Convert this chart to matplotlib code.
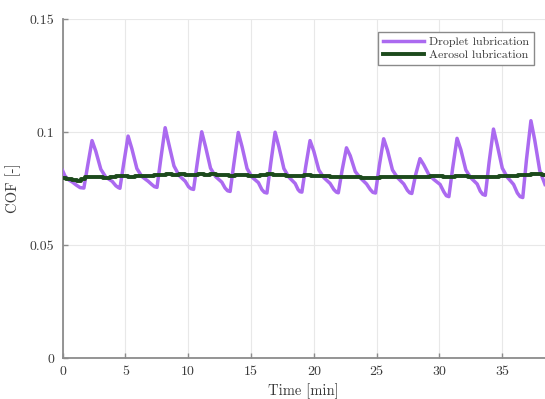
import matplotlib
matplotlib.use('Agg')
import matplotlib.pyplot as plt

# ---- data ----
# droplet lubrication (purple), time [min] / COF [-]
drop_t = [0.00, 0.20, 0.50, 0.80, 1.10, 1.40, 1.70, 2.00, 2.35,
          2.65, 3.05, 3.45, 3.95, 4.25, 4.45, 4.57, 4.87, 5.22,
          5.52, 5.92, 6.32, 6.82, 7.12, 7.32, 7.52, 7.82, 8.17,
          8.47, 8.87, 9.27, 9.77, 10.03, 10.23, 10.43, 10.73, 11.08,
          11.38, 11.78, 12.18, 12.68, 12.94, 13.14, 13.34, 13.64, 13.99,
          14.29, 14.69, 15.09, 15.59, 15.87, 16.07, 16.27, 16.57, 16.92,
          17.22, 17.62, 18.02, 18.52, 18.75, 18.90, 19.05, 19.35, 19.70,
          20.00, 20.40, 20.80, 21.30, 21.60, 21.80, 21.95, 22.25, 22.60,
          22.90, 23.30, 23.70, 24.20, 24.50, 24.70, 24.91, 25.21, 25.56,
          25.86, 26.26, 26.66, 27.16, 27.45, 27.63, 27.80, 28.10, 28.45,
          28.75, 29.15, 29.55, 30.05, 30.35, 30.55, 30.75, 31.05, 31.40,
          31.70, 32.10, 32.50, 33.00, 33.25, 33.45, 33.65, 33.95, 34.30,
          34.60, 35.00, 35.40, 35.90, 36.20, 36.42, 36.63, 36.93, 37.28,
          37.58, 37.98, 38.40]
drop_cof = [0.0830, 0.0805, 0.0788, 0.0778, 0.0765, 0.0754, 0.0752, 0.0850, 0.0962,
            0.0915, 0.0835, 0.0800, 0.0782, 0.0762, 0.0754, 0.0751, 0.0860, 0.0982,
            0.0926, 0.0838, 0.0803, 0.0782, 0.0767, 0.0758, 0.0755, 0.0880, 0.1019,
            0.0945, 0.0850, 0.0808, 0.0782, 0.0758, 0.0749, 0.0746, 0.0865, 0.1001,
            0.0936, 0.0840, 0.0803, 0.0778, 0.0752, 0.0740, 0.0737, 0.0860, 0.0998,
            0.0935, 0.0838, 0.0800, 0.0776, 0.0745, 0.0733, 0.0730, 0.0860, 0.0999,
            0.0935, 0.0838, 0.0800, 0.0772, 0.0745, 0.0736, 0.0734, 0.0845, 0.0962,
            0.0915, 0.0832, 0.0798, 0.0772, 0.0745, 0.0734, 0.0731, 0.0830, 0.0930,
            0.0895, 0.0825, 0.0797, 0.0770, 0.0745, 0.0733, 0.0730, 0.0850, 0.0970,
            0.0920, 0.0832, 0.0798, 0.0770, 0.0742, 0.0731, 0.0728, 0.0810, 0.0882,
            0.0855, 0.0812, 0.0790, 0.0768, 0.0735, 0.0718, 0.0714, 0.0840, 0.0972,
            0.0922, 0.0832, 0.0797, 0.0770, 0.0738, 0.0724, 0.0720, 0.0865, 0.1013,
            0.0942, 0.0840, 0.0800, 0.0768, 0.0730, 0.0714, 0.0710, 0.0880, 0.1050,
            0.0965, 0.0830, 0.0768]

# aerosol lubrication (dark green), sampled every 0.5 min
aero_t = [0.0, 0.5, 1.0, 1.3, 1.6, 2.0, 2.5, 3.0, 3.5, 4.0, 4.5, 5.0, 5.5, 6.0, 6.5,
          7.0, 7.5, 8.0, 8.5, 9.0, 9.5, 10.0, 10.5, 11.0, 11.5, 12.0, 12.5, 13.0, 13.5,
          14.0, 14.5, 15.0, 15.5, 16.0, 16.5, 17.0, 17.5, 18.0, 18.5, 19.0, 19.5, 20.0,
          20.5, 21.0, 21.5, 22.0, 22.5, 23.0, 23.5, 24.0, 24.5, 25.0, 25.5, 26.0, 26.5,
          27.0, 27.5, 28.0, 28.5, 29.0, 29.5, 30.0, 30.5, 31.0, 31.5, 32.0, 32.5, 33.0,
          33.5, 34.0, 34.5, 35.0, 35.5, 36.0, 36.5, 37.0, 37.5, 38.0, 38.4]
aero_cof = [0.0795, 0.0793, 0.0788, 0.0782, 0.0792, 0.0800, 0.0803, 0.0801, 0.0798, 0.0801,
            0.0804, 0.0805, 0.0803, 0.0806, 0.0807, 0.0805, 0.0809, 0.0811, 0.0812, 0.0810,
            0.0813, 0.0811, 0.0808, 0.0812, 0.0811, 0.0812, 0.0809, 0.0808, 0.0806, 0.0810,
            0.0808, 0.0806, 0.0807, 0.0808, 0.0812, 0.0811, 0.0808, 0.0806, 0.0807, 0.0806,
            0.0808, 0.0805, 0.0806, 0.0804, 0.0803, 0.0803, 0.0801, 0.0801, 0.0799, 0.0798,
            0.0797, 0.0797, 0.0799, 0.0799, 0.0801, 0.0802, 0.0801, 0.0803, 0.0802, 0.0803,
            0.0804, 0.0804, 0.0802, 0.0803, 0.0805, 0.0804, 0.0803, 0.0802, 0.0801, 0.0803,
            0.0802, 0.0805, 0.0804, 0.0806, 0.0808, 0.0811, 0.0812, 0.0812, 0.0810]

x_ticks = [0, 5, 10, 15, 20, 25, 30, 35]
x_labels = ['0', '5', '10', '15', '20', '25', '30', '35']
y_ticks = [0, 0.05, 0.1, 0.15]
y_labels = ['0', '0.05', '0.1', '0.15']
series_names = ['Droplet lubrication', 'Aerosol lubrication']

# ---- styling ----
plt.rcParams['font.family'] = ['cmr10', 'DejaVu Serif']
plt.rcParams['axes.formatter.use_mathtext'] = True

W, H = 545, 399
fig = plt.figure(figsize=(W / 100, H / 100), dpi=100)
left, right, top, bottom = 62.5, 545, 19, 358
ax = fig.add_axes([left / W, 1 - bottom / H, (right - left) / W, (bottom - top) / H])

ax.plot(drop_t, drop_cof, color='#ab6af0', lw=2.5, label=series_names[0],
        solid_joinstyle='round', zorder=3)
ax.plot(aero_t, aero_cof, color='#1c4a1c', lw=2.8, label=series_names[1],
        drawstyle='steps-mid', zorder=4)

ax.set_xlim(0, 38.4)
ax.set_ylim(0, 0.15)
ax.set_xticks(x_ticks, labels=x_labels)
ax.set_yticks(y_ticks, labels=y_labels)

ax.grid(True, color='#e8e8e8', lw=0.8)
ax.set_axisbelow(True)
for s in ['top', 'right']:
    ax.spines[s].set_visible(False)
for s in ['left', 'bottom']:
    ax.spines[s].set_color('#8c8c8c')
    ax.spines[s].set_linewidth(1.3)
ax.tick_params(direction='in', length=3.5, width=1.0, color='#8c8c8c',
               labelsize=10, labelcolor='#3a3a3a', pad=6)

ax.set_xlabel('Time [min]', fontsize=10.5, color='#3a3a3a')
ax.set_ylabel('COF [-]', fontsize=10.5, color='#3a3a3a')
ax.xaxis.set_label_coords(0.5, -0.074)
ax.yaxis.set_label_coords(-0.086, 0.5)

leg = ax.legend(loc='upper right', bbox_to_anchor=(0.977, 0.962), borderaxespad=0,
                fontsize=8.6, handlelength=3.5, handletextpad=0.4, labelspacing=0.25,
                borderpad=0.4, fancybox=False, framealpha=1, edgecolor='#8a8a8a')
leg.get_frame().set_linewidth(1.0)
for t in leg.get_texts():
    t.set_color('#3a3a3a')

fig.savefig('out.png', dpi=100)
